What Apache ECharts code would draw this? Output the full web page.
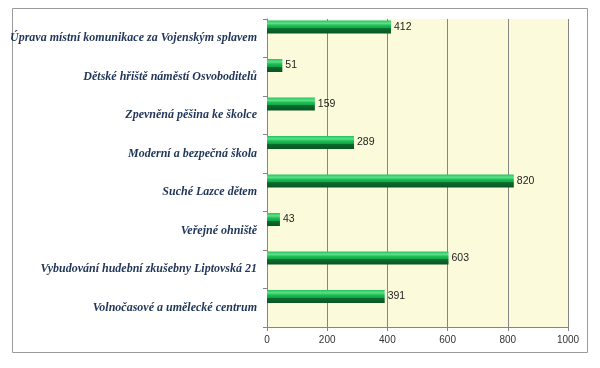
<!DOCTYPE html>
<html><head><meta charset="utf-8">
<script src="https://cdn.jsdelivr.net/npm/echarts@6/dist/echarts.min.js"></script>
<style>html,body{margin:0;padding:0;background:#fff}#c{width:600px;height:368px}</style>
</head><body><div id="c"></div>
<script>
const categories = [
  'Úprava místní komunikace za Vojenským splavem',
  'Dětské hřiště náměstí Osvoboditelů',
  'Zpevněná pěšina ke školce',
  'Moderní a bezpečná škola',
  'Suché Lazce dětem',
  'Veřejné ohniště',
  'Vybudování hudební zkušebny Liptovská 21',
  'Volnočasové a umělecké centrum'
];
const values = [412, 51, 159, 289, 820, 43, 603, 391];
const xTicks = [0, 200, 400, 600, 800, 1000];

const chart = echarts.init(document.getElementById('c'), null, {renderer: 'canvas'});
const barGrad = new echarts.graphic.LinearGradient(0, 0, 0, 1, [
  {offset: 0, color: '#22c35a'},
  {offset: 0.22, color: '#5ee08c'},
  {offset: 0.38, color: '#1fbf56'},
  {offset: 0.58, color: '#12a446'},
  {offset: 0.62, color: '#0b6b2d'},
  {offset: 1, color: '#095524'}
]);
chart.setOption({
  animation: false,
  backgroundColor: '#ffffff',
  graphic: [{
    type: 'rect', shape: {x: 12.5, y: 8.5, width: 575, height: 344},
    style: {fill: 'none', stroke: '#9a9a9a', lineWidth: 1}, silent: true
  }],
  grid: {left: 267, right: 32, top: 19, bottom: 41, show: true, backgroundColor: '#fbfbdb', borderWidth: 0, containLabel: false, outerBoundsMode: 'none'},
  xAxis: {
    type: 'value', min: xTicks[0], max: xTicks[xTicks.length - 1], interval: 200,
    axisLine: {show: true, lineStyle: {color: '#858585'}},
    axisTick: {show: true, length: 4, lineStyle: {color: '#858585'}},
    axisLabel: {color: '#333', fontSize: 10, fontFamily: 'Liberation Sans', margin: 8, formatter: v => String(v)},
    splitLine: {show: true, lineStyle: {color: '#858585', width: 1}}
  },
  yAxis: {
    type: 'category', data: categories, inverse: true,
    axisLine: {show: true, lineStyle: {color: '#858585'}},
    axisTick: {show: true, length: 4, lineStyle: {color: '#858585'}},
    axisLabel: {color: '#1f3559', fontSize: 12, fontStyle: 'italic', fontWeight: 'bold', fontFamily: 'Liberation Serif', margin: 10}
  },
  series: [{
    type: 'bar', data: values, barWidth: 13, barGap: '73%',
    itemStyle: {color: barGrad, borderColor: '#0a5a26', borderWidth: 0},
    label: {show: true, position: 'right', distance: 3, color: '#222', fontSize: 10.5, fontFamily: 'Liberation Sans'}
  }, {
    type: 'bar', data: values.map(() => 0), barWidth: 13, silent: true
  }]
});
</script></body></html>
